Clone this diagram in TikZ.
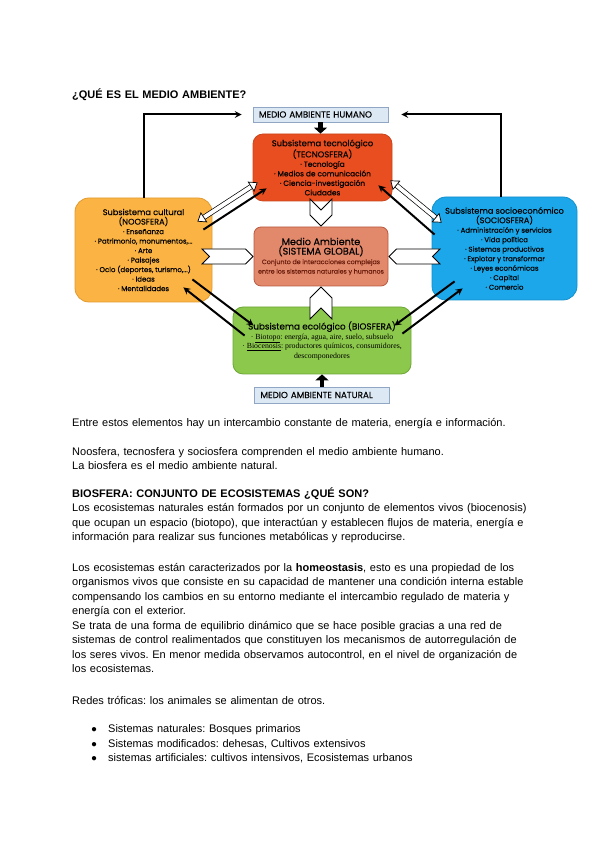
\documentclass[tikz,border=0pt]{standalone}
\usepackage{fontspec}
\setmainfont{Liberation Sans}
\newfontfamily\boxfont{Poppins}[FakeBold=0.2]
\newfontfamily\boxserif{Liberation Serif}
\usetikzlibrary{shapes.geometric, shapes.symbols, arrows, arrows.meta, positioning, calc}
\frenchspacing

\definecolor{tecfill}{HTML}{E84E1F}
\definecolor{tecline}{HTML}{C8461E}
\definecolor{cultfill}{HTML}{FBB343}
\definecolor{cultline}{HTML}{E09A30}
\definecolor{socfill}{HTML}{1BA7EA}
\definecolor{socline}{HTML}{1590CC}
\definecolor{medfill}{HTML}{E2886B}
\definecolor{medline}{HTML}{B95A40}
\definecolor{medtext}{HTML}{6B1E0E}
\definecolor{biofill}{HTML}{8CC84B}
\definecolor{bioline}{HTML}{6CA636}
\definecolor{labfill}{HTML}{DCE9F5}
\definecolor{labline}{HTML}{8FA6C4}

\newcommand{\boxtitle}[1]{{\fontsize{8.2}{10}\selectfont #1}}
\newcommand{\bioline}[1]{{\boxserif\fontsize{7.8}{10}\selectfont #1}}

\tikzset{
    subsys/.style={rectangle, rounded corners=12pt, line width=0.8pt, align=center, inner sep=0pt, text=black, font=\boxfont\fontsize{7}{9.5}\selectfont},
    envbox/.style={rectangle, draw=labline, fill=labfill, line width=0.6pt, minimum width=135pt, minimum height=15pt, inner sep=0pt, text width=123pt, align=left, font=\boxfont\fontsize{8.8}{9}\selectfont},
    chevron/.style={signal, signal from=west, signal to=east, draw=black, fill=white, line width=0.8pt, inner sep=0pt, anchor=east},
    arrow/.style={line width=2pt, ->, >=stealth},
    fatarrow/.style={line width=4.5pt, -{Triangle[length=6pt, width=13pt]}},
    hollow/.style={double=white, double distance=3.8pt, line width=0.7pt, {Triangle[fill=white, line width=0.7pt, length=8pt, width=12pt]}-{Triangle[fill=white, line width=0.7pt, length=8pt, width=12pt]}},
    para/.style={anchor=base west, inner sep=0pt, align=left, text width=490pt, font=\fontsize{11}{14.5}\selectfont}
}

\begin{document}
\begin{tikzpicture}[x=1pt, y=1pt]
    \useasboundingbox (0,0) rectangle (600,848);

    \node (titulo) [para, font=\bfseries\fontsize{11}{14.5}\selectfont] at (72,749) {¿QUÉ ES EL MEDIO AMBIENTE?};

    % diagrama
    \node (humano) [envbox] at (320.5,733.5) {MEDIO AMBIENTE HUMANO};
    \node (tec) [subsys, fill=tecfill, draw=tecline, rounded corners=10pt, minimum width=139pt, minimum height=67pt, font=\boxfont\fontsize{7.4}{9.5}\selectfont] at (322.5,680.5) {{\fontsize{8.4}{10}\selectfont Subsistema tecnológico}\\{\fontsize{8.4}{10}\selectfont (TECNOSFERA)}\\· Tecnología\\· Medios de comunicación\\· Ciencia-investigación\\Ciudades};
    \node (cult) [subsys, fill=cultfill, draw=cultline, rounded corners=14pt, minimum width=137pt, minimum height=104pt] at (143.5,598) {\boxtitle{Subsistema cultural}\\\boxtitle{(NOOSFERA)}\\· Enseñanza\\· Patrimonio, monumentos,...\\· Arte\\· Paisajes\\· Ocio (deportes, turismo,...)\\· Ideas\\· Mentalidades};
    \node (soc) [subsys, fill=socfill, draw=socline, rounded corners=14pt, minimum width=145pt, minimum height=103pt] at (504.5,599.5) {\boxtitle{Subsistema socioeconómico}\\\boxtitle{(SOCIOSFERA)}\\· Administración y servicios\\· Vida política\\· Sistemas productivos\\· Explotar y transformar\\· Leyes económicas\\· Capital\\· Comercio};
    \node (medio) [subsys, fill=medfill, draw=medline, rounded corners=7pt, minimum width=134pt, minimum height=59pt] at (321,591.5) {{\fontsize{9.6}{10}\selectfont Medio Ambiente}\\{\fontsize{9.6}{10}\selectfont (SISTEMA GLOBAL)}\\{\color{medtext}\fontsize{6.3}{9}\selectfont Conjunto de interacciones complejas}\\{\color{medtext}\fontsize{6.3}{9}\selectfont entre los sistemas naturales y humanos}};
    \node (bio) [subsys, fill=biofill, draw=bioline, rounded corners=10pt, minimum width=178pt, minimum height=67pt] at (322,507.5) {{\fontsize{8.8}{10}\selectfont Subsistema ecológico (BIOSFERA)}\\\bioline{· \underline{Biotopo}: energía, agua, aire, suelo, subsuelo}\\\bioline{· \underline{Biocenosis}: productores químicos, consumidores,}\\\bioline{descomponedores}};
    \node (natural) [envbox, minimum height=16pt] at (322,453) {MEDIO AMBIENTE NATURAL};

    \node (chevT) [chevron, minimum width=27pt, minimum height=22pt, rotate=-90] at (medio.north) {};
    \node (chevB) [chevron, minimum width=32pt, minimum height=22pt, rotate=90] at (medio.south) {};
    \node (chevL) [chevron, minimum width=51pt, minimum height=15pt] at (medio.west) {};
    \node (chevR) [chevron, minimum width=51pt, minimum height=15pt, rotate=180] at (medio.east) {};

    \draw [fatarrow] (humano.south) -- (humano.south |- tec.north);
    \draw [fatarrow] (natural.north) -- (bio.south);
    \draw [arrow, shorten >=11pt] (cult.north) |- (humano.west);
    \draw [arrow, shorten >=13pt] ([xshift=-4pt]soc.north) |- (humano.east);

    \draw [hollow] ([shift={(-15pt,-24pt)}]cult.north east) -- ([shift={(5pt,19pt)}]tec.south west);
    \draw [hollow] ([shift={(10pt,-26pt)}]soc.north west) -- ([shift={(-2pt,21pt)}]tec.south east);
    \draw [arrow] ([shift={(-9pt,-32pt)}]cult.north east) -- ([shift={(14pt,13pt)}]tec.south west);
    \draw [arrow] ([shift={(3pt,-38pt)}]soc.north west) -- ([shift={(-14pt,16pt)}]tec.south east);

    \draw [arrow] ([shift={(12pt,-29pt)}]bio.north west) -- ([shift={(-29pt,15pt)}]cult.south east);
    \draw [arrow] ([shift={(-20pt,23pt)}]cult.south east) -- ([shift={(21pt,-19pt)}]bio.north west);
    \draw [arrow] ([shift={(23pt,19pt)}]soc.south west) -- ([shift={(-17pt,-19pt)}]bio.north east);
    \draw [arrow] ([shift={(-9pt,-27pt)}]bio.north east) -- ([shift={(31pt,12pt)}]soc.south west);

    % texto
    \node (intro) [para] at (72,421) {Entre estos elementos hay un intercambio constante de materia, energía e información.};
    \node (humnat) [para] at (72,392.5) {Noosfera, tecnosfera y sociosfera comprenden el medio ambiente humano.\\La biosfera es el medio ambiente natural.};
    \node (bioshead) [para] at (72,350.5) {\textbf{BIOSFERA: CONJUNTO DE ECOSISTEMAS ¿QUÉ SON?}\\Los ecosistemas naturales están formados por un conjunto de elementos vivos (biocenosis)\\que ocupan un espacio (biotopo), que interactúan y establecen flujos de materia, energía e\\información para realizar sus funciones metabólicas y reproducirse.};
    \node (homeo) [para] at (72,276.5) {Los ecosistemas están caracterizados por la \textbf{homeostasis}, esto es una propiedad de los\\organismos vivos que consiste en su capacidad de mantener una condición interna estable\\compensando los cambios en su entorno mediante el intercambio regulado de materia y\\energía con el exterior.\\Se trata de una forma de equilibrio dinámico que se hace posible gracias a una red de\\sistemas de control realimentados que constituyen los mecanismos de autorregulación de\\los seres vivos. En menor medida observamos autocontrol, en el nivel de organización de\\los ecosistemas.};
    \node (redes) [para] at (72,143) {Redes tróficas: los animales se alimentan de otros.};
    \node (tipos) [para, text width=440pt] at (91,115) {\makebox[17pt][l]{\fontsize{10}{8}\selectfont ●}Sistemas naturales: Bosques primarios\\\makebox[17pt][l]{\fontsize{10}{8}\selectfont ●}Sistemas modificados: dehesas, Cultivos extensivos\\\makebox[17pt][l]{\fontsize{10}{8}\selectfont ●}sistemas artificiales: cultivos intensivos, Ecosistemas urbanos};
\end{tikzpicture}
\end{document}
